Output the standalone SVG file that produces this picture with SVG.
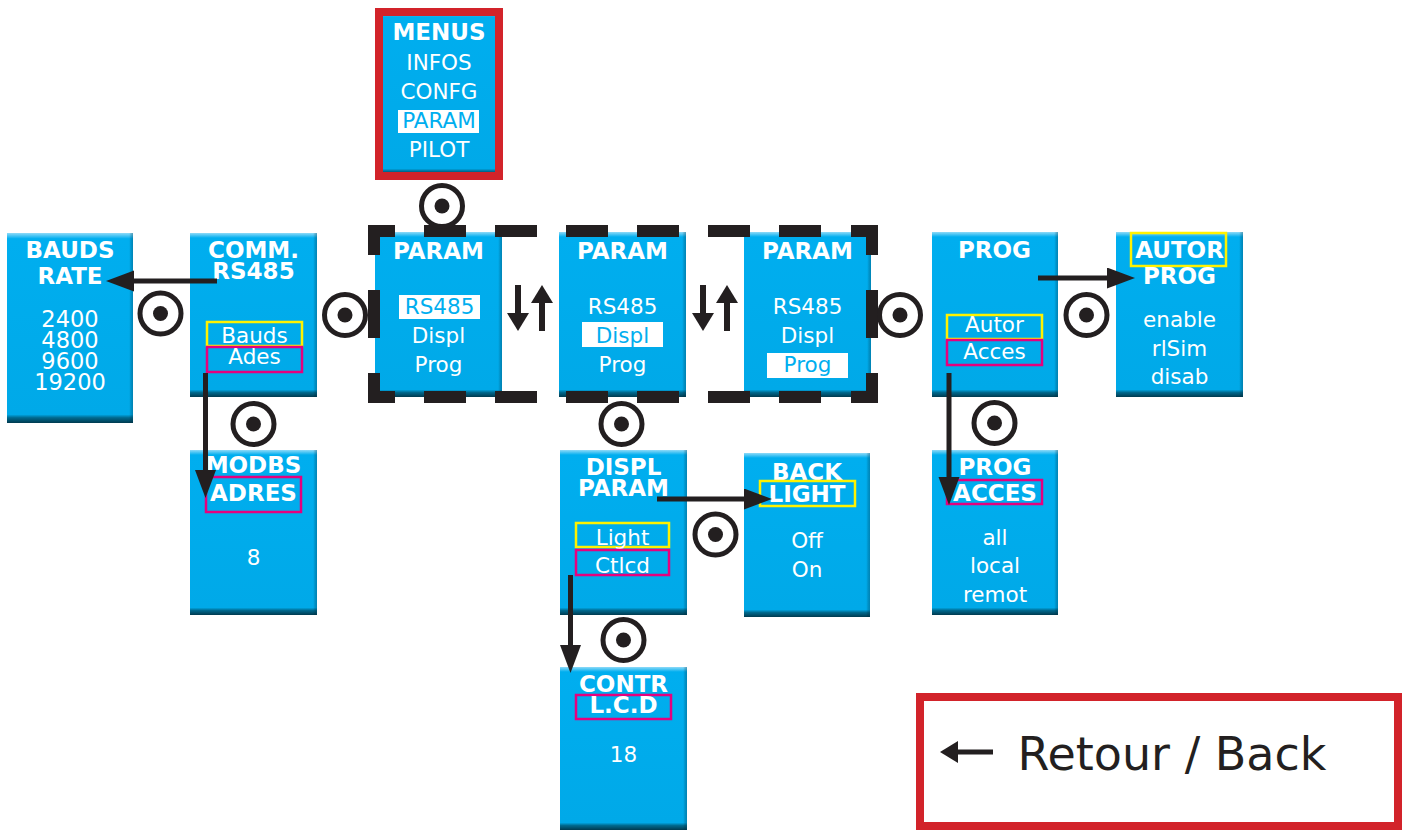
<svg xmlns="http://www.w3.org/2000/svg" xmlns:xlink="http://www.w3.org/1999/xlink" width="1405" height="830" viewBox="0 0 1405 830">
<defs>
<linearGradient id="blue" x1="0" y1="0" x2="0" y2="1">
<stop offset="0" stop-color="#8fdaf8"/>
<stop offset="0.03" stop-color="#00aeef"/>
<stop offset="0.955" stop-color="#00a9e8"/>
<stop offset="0.972" stop-color="#006a8f"/>
<stop offset="1" stop-color="#003a4f"/>
</linearGradient>
<linearGradient id="side" x1="0" y1="0" x2="1" y2="0">
<stop offset="0.97" stop-color="#000" stop-opacity="0"/>
<stop offset="1" stop-color="#003a4f" stop-opacity="0.35"/>
</linearGradient>
<marker id="ah" markerUnits="userSpaceOnUse" markerWidth="30" markerHeight="22" refX="0" refY="10.5" orient="auto">
<path d="M0,0 L28,10.5 L0,21 Z" fill="#231f20"/>
</marker>
<marker id="sh" markerUnits="userSpaceOnUse" markerWidth="20" markerHeight="24" refX="0" refY="11" orient="auto">
<path d="M0,0 L18,11 L0,22 Z" fill="#231f20"/>
</marker>
<g id="ok">
<circle r="20.5" fill="#fff" stroke="#231f20" stroke-width="5"/>
<circle r="7.5" fill="#231f20"/>
</g>
<style>
.box{fill:url(#blue)}
.sd{fill:url(#side)}
text{font-family:"DejaVu Sans",Verdana,sans-serif;fill:#fff;text-anchor:middle}
.t{font-weight:bold;font-size:23px}
.r{font-size:21.5px}
.n{font-size:22.5px}
.hl{fill:#00aeef}
.w{fill:#fff}
.y{fill:none;stroke:#fff200;stroke-width:2.5}
.m{fill:none;stroke:#e6007e;stroke-width:2.5}
.c{fill:none;stroke:#231f20;stroke-width:5}
.a2{fill:none;stroke:#231f20;stroke-width:6}
.red{fill:none;stroke:#d2232a;stroke-width:8}
</style>
</defs>

<g id="menus">
<rect x="379" y="12" width="120" height="164" fill="url(#blue)"/>
<rect class="red" x="379" y="12" width="120" height="164"/>
<text class="t" x="439" y="40">MENUS</text>
<text class="r" x="439" y="70">INFOS</text>
<text class="r" x="439" y="99">CONFG</text>
<rect class="w" x="398" y="110" width="81" height="23"/>
<text class="r hl" x="439" y="128">PARAM</text>
<text class="r" x="439" y="157">PILOT</text>
</g>

<g id="bauds-rate">
<rect class="box" x="7" y="233" width="126" height="190"/>
<rect class="sd" x="7" y="233" width="126" height="190"/>
<text class="t" x="70" y="258">BAUDS</text>
<text class="t" x="70" y="284">RATE</text>
<text class="n" x="70" y="327">2400</text>
<text class="n" x="70" y="348">4800</text>
<text class="n" x="70" y="369">9600</text>
<text class="n" x="70" y="390">19200</text>
</g>

<g id="comm-rs485">
<rect class="box" x="190" y="233" width="127" height="164"/>
<rect class="sd" x="190" y="233" width="127" height="164"/>
<text class="t" x="253.5" y="258">COMM.</text>
<text class="t" x="253.5" y="279">RS485</text>
<rect class="y" x="207" y="322" width="95" height="24"/>
<text class="r" x="254.5" y="343">Bauds</text>
<rect class="m" x="207" y="347" width="95" height="25"/>
<text class="r" x="254.5" y="364">Ades</text>
</g>

<g id="param-rs485">
<rect class="box" x="375" y="232" width="127" height="165"/>
<rect class="sd" x="375" y="232" width="127" height="165"/>
<text class="t" x="438.5" y="259">PARAM</text>
<rect class="w" x="399" y="295" width="81" height="24"/>
<text class="r hl" x="439.5" y="314">RS485</text>
<text class="r" x="438.5" y="343">Displ</text>
<text class="r" x="438.5" y="372">Prog</text>
</g>

<g id="param-displ">
<rect class="box" x="559" y="232" width="127" height="165"/>
<rect class="sd" x="559" y="232" width="127" height="165"/>
<text class="t" x="622.5" y="259">PARAM</text>
<text class="r" x="622.5" y="314">RS485</text>
<rect class="w" x="582" y="322" width="81" height="25"/>
<text class="r hl" x="622.5" y="343">Displ</text>
<text class="r" x="622.5" y="372">Prog</text>
</g>

<g id="param-prog">
<rect class="box" x="744" y="232" width="127" height="165"/>
<rect class="sd" x="744" y="232" width="127" height="165"/>
<text class="t" x="807.5" y="259">PARAM</text>
<text class="r" x="807.5" y="314">RS485</text>
<text class="r" x="807.5" y="343">Displ</text>
<rect class="w" x="767" y="353" width="81" height="25"/>
<text class="r hl" x="807.5" y="372">Prog</text>
</g>

<g id="prog">
<rect class="box" x="932" y="232" width="126" height="165"/>
<rect class="sd" x="932" y="232" width="126" height="165"/>
<text class="t" x="994.5" y="258">PROG</text>
<rect class="y" x="947" y="315" width="95" height="24"/>
<text class="r" x="994.5" y="332">Autor</text>
<rect class="m" x="947" y="340" width="95" height="25"/>
<text class="r" x="994.5" y="359">Acces</text>
</g>

<g id="autor-prog">
<rect class="box" x="1116" y="232" width="127" height="165"/>
<rect class="sd" x="1116" y="232" width="127" height="165"/>
<text class="t" x="1179.5" y="258">AUTOR</text>
<rect class="y" x="1131" y="233" width="95" height="33"/>
<text class="t" x="1179.5" y="284">PROG</text>
<text class="r" x="1179.5" y="327">enable</text>
<text class="r" x="1179.5" y="356">rlSim</text>
<text class="r" x="1179.5" y="384">disab</text>
</g>

<g id="modbs-adres">
<rect class="box" x="190" y="450" width="127" height="165"/>
<rect class="sd" x="190" y="450" width="127" height="165"/>
<text class="t" x="253.5" y="473">MODBS</text>
<rect class="m" x="206" y="477" width="95" height="35"/>
<text class="t" x="253.5" y="501">ADRES</text>
<text class="r" x="253.5" y="565">8</text>
</g>

<g id="displ-param">
<rect class="box" x="560" y="450" width="127" height="165"/>
<rect class="sd" x="560" y="450" width="127" height="165"/>
<text class="t" x="623.5" y="475">DISPL</text>
<text class="t" x="623.5" y="496">PARAM</text>
<rect class="y" x="576" y="523" width="93" height="24"/>
<text class="r" x="622.5" y="545">Light</text>
<text class="r" x="622.5" y="573">Ctlcd</text>
<rect class="m" x="576" y="550" width="93" height="25"/>
</g>

<g id="back-light">
<rect class="box" x="744" y="453" width="126" height="164"/>
<rect class="sd" x="744" y="453" width="126" height="164"/>
<text class="t" x="807" y="480">BACK</text>
<rect class="y" x="760" y="481" width="95" height="25"/>
<text class="t" x="807" y="502">LIGHT</text>
<text class="r" x="807" y="548">Off</text>
<text class="r" x="807" y="577">On</text>
</g>

<g id="prog-acces">
<rect class="box" x="932" y="450" width="126" height="165"/>
<rect class="sd" x="932" y="450" width="126" height="165"/>
<text class="t" x="995" y="475">PROG</text>
<rect class="m" x="947" y="480" width="95" height="24"/>
<text class="t" x="995" y="501">ACCES</text>
<text class="r" x="995" y="545">all</text>
<text class="r" x="995" y="573">local</text>
<text class="r" x="995" y="602">remot</text>
</g>

<g id="contr-lcd">
<rect class="box" x="560" y="667" width="127" height="163"/>
<rect class="sd" x="560" y="667" width="127" height="163"/>
<text class="t" x="623.5" y="692">CONTR</text>
<rect class="m" x="576" y="695" width="95" height="24"/>
<text class="t" x="623.5" y="713">L.C.D</text>
<text class="r" x="623.5" y="762">18</text>
</g>

<g id="param-frame" fill="#231f20">
<rect x="368" y="225" width="27" height="12"/>
<rect x="424" y="225" width="42" height="12"/>
<rect x="495" y="225" width="42" height="12"/>
<rect x="566" y="225" width="42" height="12"/>
<rect x="637" y="225" width="42" height="12"/>
<rect x="708" y="225" width="42" height="12"/>
<rect x="779" y="225" width="42" height="12"/>
<rect x="851" y="225" width="27" height="12"/>
<rect x="368" y="391" width="27" height="12"/>
<rect x="424" y="391" width="42" height="12"/>
<rect x="495" y="391" width="42" height="12"/>
<rect x="566" y="391" width="42" height="12"/>
<rect x="637" y="391" width="42" height="12"/>
<rect x="708" y="391" width="42" height="12"/>
<rect x="779" y="391" width="42" height="12"/>
<rect x="851" y="391" width="27" height="12"/>
<rect x="368" y="225" width="12" height="30"/>
<rect x="368" y="290" width="12" height="48"/>
<rect x="368" y="373" width="12" height="30"/>
<rect x="866" y="225" width="12" height="30"/>
<rect x="866" y="290" width="12" height="48"/>
<rect x="866" y="373" width="12" height="30"/>
</g>

<g id="connectors">
<path class="c" d="M217,281 H134" marker-end="url(#ah)"/>
<path class="c" d="M205.5,373 V470" marker-end="url(#ah)"/>
<path class="c" d="M1038,278 H1107" marker-end="url(#ah)"/>
<path class="c" d="M949,373 V477" marker-end="url(#ah)"/>
<path class="c" d="M657,499 H744" marker-end="url(#ah)"/>
<path class="c" d="M570.5,575 V645" marker-end="url(#ah)"/>
<path class="a2" d="M518,285 V313" marker-end="url(#sh)"/>
<path class="a2" d="M542,331 V303" marker-end="url(#sh)"/>
<path class="a2" d="M703,285 V313" marker-end="url(#sh)"/>
<path class="a2" d="M727,331 V303" marker-end="url(#sh)"/>
</g>

<g id="ok-symbols">
<use xlink:href="#ok" href="#ok" x="442" y="206"/>
<use xlink:href="#ok" href="#ok" x="160.5" y="313.5"/>
<use xlink:href="#ok" href="#ok" x="345" y="315"/>
<use xlink:href="#ok" href="#ok" x="253.5" y="424"/>
<use xlink:href="#ok" href="#ok" x="621.5" y="424"/>
<use xlink:href="#ok" href="#ok" x="900" y="315"/>
<use xlink:href="#ok" href="#ok" x="1086.5" y="315"/>
<use xlink:href="#ok" href="#ok" x="994.5" y="423"/>
<use xlink:href="#ok" href="#ok" x="715.5" y="534.5"/>
<use xlink:href="#ok" href="#ok" x="623.5" y="640"/>
</g>

<g id="legend">
<rect class="red" x="920" y="697" width="478" height="129" fill="#fff"/>
<path class="c" d="M993,752 H958" marker-end="url(#sh)"/>
<text x="1172" y="770" style="font-size:46px;fill:#231f20">Retour / Back</text>
</g>
</svg>
